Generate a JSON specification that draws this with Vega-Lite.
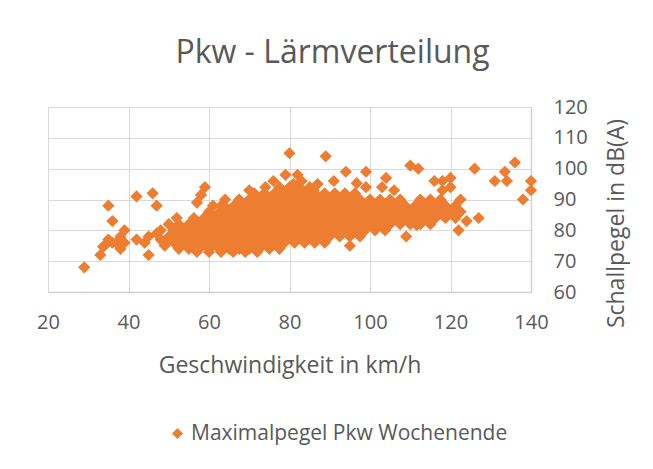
{
  "$schema": "https://vega.github.io/schema/vega-lite/v6.json",
  "width": 483,
  "height": 185,
  "autosize": {"type": "none"},
  "padding": {"left": 48, "top": 107, "right": 122, "bottom": 177},
  "background": "white",
  "title": {"text": "Pkw - Lärmverteilung", "anchor": "middle", "frame": "group", "dx": 43, "offset": 2, "baseline": "alphabetic", "fontSize": 32, "font": "Open Sans", "fontWeight": "normal", "color": "#595959"},
  "data": {"values": [
    {"v":57,"p":73},{"v":60,"p":73},{"v":63,"p":73},{"v":66,"p":73},{"v":69,"p":73},{"v":72,"p":73},
    {"v":52.5,"p":74},{"v":55,"p":74},{"v":57.5,"p":74},{"v":60,"p":74},{"v":62.5,"p":74},{"v":65,"p":74},{"v":67.5,"p":74},{"v":70,"p":74},{"v":72.5,"p":74},{"v":75,"p":74},{"v":77.5,"p":74},
    {"v":48.75,"p":76},{"v":51.25,"p":76},{"v":53.75,"p":76},{"v":56.25,"p":76},{"v":58.75,"p":76},{"v":61.25,"p":76},{"v":63.75,"p":76},{"v":66.25,"p":76},{"v":68.75,"p":76},{"v":71.25,"p":76},{"v":73.75,"p":76},{"v":76.25,"p":76},{"v":78.75,"p":76},{"v":81.25,"p":76},{"v":83.75,"p":76},{"v":86.25,"p":76},{"v":88.75,"p":76},
    {"v":50,"p":78},{"v":52.5,"p":78},{"v":55,"p":78},{"v":57.5,"p":78},{"v":60,"p":78},{"v":62.5,"p":78},{"v":65,"p":78},{"v":67.5,"p":78},{"v":70,"p":78},{"v":72.5,"p":78},{"v":75,"p":78},{"v":77.5,"p":78},{"v":80,"p":78},{"v":82.5,"p":78},{"v":85,"p":78},{"v":87.5,"p":78},{"v":90,"p":78},{"v":92.5,"p":78},{"v":95,"p":78},{"v":97.5,"p":78},
    {"v":51.25,"p":80},{"v":53.75,"p":80},{"v":56.25,"p":80},{"v":58.75,"p":80},{"v":61.25,"p":80},{"v":63.75,"p":80},{"v":66.25,"p":80},{"v":68.75,"p":80},{"v":71.25,"p":80},{"v":73.75,"p":80},{"v":76.25,"p":80},{"v":78.75,"p":80},{"v":81.25,"p":80},{"v":83.75,"p":80},{"v":86.25,"p":80},{"v":88.75,"p":80},{"v":91.25,"p":80},{"v":93.75,"p":80},{"v":96.25,"p":80},{"v":98.75,"p":80},{"v":101.25,"p":80},{"v":103.75,"p":80},
    {"v":52.5,"p":82},{"v":55,"p":82},{"v":57.5,"p":82},{"v":60,"p":82},{"v":62.5,"p":82},{"v":65,"p":82},{"v":67.5,"p":82},{"v":70,"p":82},{"v":72.5,"p":82},{"v":75,"p":82},{"v":77.5,"p":82},{"v":80,"p":82},{"v":82.5,"p":82},{"v":85,"p":82},{"v":87.5,"p":82},{"v":90,"p":82},{"v":92.5,"p":82},{"v":95,"p":82},{"v":97.5,"p":82},{"v":100,"p":82},{"v":102.5,"p":82},{"v":105,"p":82},{"v":107.5,"p":82},{"v":110,"p":82},{"v":112.5,"p":82},{"v":115,"p":82},
    {"v":56.25,"p":84},{"v":58.75,"p":84},{"v":61.25,"p":84},{"v":63.75,"p":84},{"v":66.25,"p":84},{"v":68.75,"p":84},{"v":71.25,"p":84},{"v":73.75,"p":84},{"v":76.25,"p":84},{"v":78.75,"p":84},{"v":81.25,"p":84},{"v":83.75,"p":84},{"v":86.25,"p":84},{"v":88.75,"p":84},{"v":91.25,"p":84},{"v":93.75,"p":84},{"v":96.25,"p":84},{"v":98.75,"p":84},{"v":101.25,"p":84},{"v":103.75,"p":84},{"v":106.25,"p":84},{"v":108.75,"p":84},{"v":111.25,"p":84},{"v":113.75,"p":84},{"v":116.25,"p":84},{"v":118.75,"p":84},{"v":121.25,"p":84},
    {"v":60,"p":86},{"v":62.5,"p":86},{"v":65,"p":86},{"v":67.5,"p":86},{"v":70,"p":86},{"v":72.5,"p":86},{"v":75,"p":86},{"v":77.5,"p":86},{"v":80,"p":86},{"v":82.5,"p":86},{"v":85,"p":86},{"v":87.5,"p":86},{"v":90,"p":86},{"v":92.5,"p":86},{"v":95,"p":86},{"v":97.5,"p":86},{"v":100,"p":86},{"v":102.5,"p":86},{"v":105,"p":86},{"v":107.5,"p":86},{"v":110,"p":86},{"v":112.5,"p":86},{"v":115,"p":86},{"v":117.5,"p":86},{"v":120,"p":86},{"v":122.5,"p":86},
    {"v":63.75,"p":88},{"v":66.25,"p":88},{"v":68.75,"p":88},{"v":71.25,"p":88},{"v":73.75,"p":88},{"v":76.25,"p":88},{"v":78.75,"p":88},{"v":81.25,"p":88},{"v":83.75,"p":88},{"v":86.25,"p":88},{"v":88.75,"p":88},{"v":91.25,"p":88},{"v":93.75,"p":88},{"v":96.25,"p":88},{"v":98.75,"p":88},{"v":101.25,"p":88},{"v":103.75,"p":88},{"v":106.25,"p":88},{"v":108.75,"p":88},{"v":111.25,"p":88},{"v":113.75,"p":88},{"v":116.25,"p":88},{"v":118.75,"p":88},{"v":121.25,"p":88},
    {"v":67.5,"p":90},{"v":70,"p":90},{"v":72.5,"p":90},{"v":75,"p":90},{"v":77.5,"p":90},{"v":80,"p":90},{"v":82.5,"p":90},{"v":85,"p":90},{"v":87.5,"p":90},{"v":90,"p":90},{"v":92.5,"p":90},{"v":95,"p":90},{"v":97.5,"p":90},{"v":100,"p":90},{"v":102.5,"p":90},{"v":105,"p":90},{"v":107.5,"p":90},{"v":112.5,"p":90},{"v":115,"p":90},{"v":117.5,"p":90},{"v":122.5,"p":90},
    {"v":71.25,"p":92},{"v":73.75,"p":92},{"v":76.25,"p":92},{"v":78.75,"p":92},{"v":81.25,"p":92},{"v":83.75,"p":92},{"v":86.25,"p":92},{"v":88.75,"p":92},{"v":91.25,"p":92},{"v":93.75,"p":92},{"v":96.25,"p":92},
    {"v":77.5,"p":94},{"v":80,"p":94},{"v":82.5,"p":94},{"v":85,"p":94},
    {"v":29,"p":68},{"v":33,"p":72},{"v":34,"p":75},{"v":35,"p":77},{"v":33.7,"p":74.7},{"v":36,"p":76},{"v":37,"p":76},{"v":38,"p":74},{"v":38,"p":78},{"v":39,"p":76},{"v":39,"p":80},{"v":35,"p":88},{"v":36,"p":83},{"v":42,"p":91},{"v":46,"p":92},{"v":47,"p":88},{"v":42,"p":77},{"v":44,"p":76},{"v":45,"p":72},{"v":45,"p":78},{"v":47,"p":79},{"v":48,"p":77},{"v":48,"p":80},{"v":50,"p":82},{"v":49,"p":75},{"v":52,"p":84},{"v":57,"p":89},{"v":58,"p":91.5},{"v":59,"p":94},{"v":61,"p":88},{"v":63,"p":88},{"v":64,"p":90},{"v":70,"p":93},{"v":74,"p":94},{"v":76,"p":96},{"v":79,"p":98},{"v":81,"p":95},{"v":80,"p":105},{"v":83,"p":96},{"v":82,"p":98},{"v":86,"p":93},{"v":87,"p":95},{"v":89,"p":104},{"v":91,"p":96},{"v":94,"p":99},{"v":96.7,"p":95.3},{"v":99,"p":94},{"v":99,"p":99},{"v":103,"p":94},{"v":104,"p":97},{"v":106,"p":93},{"v":110,"p":101},{"v":112,"p":100},{"v":116,"p":96},{"v":118,"p":96},{"v":120,"p":97},{"v":118,"p":93},{"v":120,"p":94},{"v":126,"p":100},{"v":131,"p":96},{"v":134,"p":96},{"v":133.5,"p":99},{"v":136,"p":102},{"v":140,"p":96},{"v":140,"p":93},{"v":138,"p":90},{"v":122,"p":80},{"v":124,"p":83},{"v":127,"p":84},{"v":115,"p":83},{"v":109,"p":78},{"v":95,"p":75},{"v":111.6,"p":81.7}
  ]},
  "mark": {"type": "point", "shape": "diamond", "filled": true, "size": 150, "opacity": 1},
  "encoding": {
    "x": {
      "field": "v", "type": "quantitative",
      "scale": {"domain": [20, 140], "nice": false, "zero": false},
      "axis": {
        "values": [20, 40, 60, 80, 100, 120, 140],
        "title": "Geschwindigkeit in km/h",
        "grid": true, "gridColor": "#D9D9D9", "gridWidth": 1,
        "domain": true, "domainColor": "#D0D0D0", "domainWidth": 1.5,
        "ticks": false,
        "labelFont": "Open Sans", "labelFontSize": 20, "labelColor": "#595959", "labelPadding": 20,
        "labelFlush": false, "labelOverlap": false,
        "titleFont": "Open Sans", "titleFontSize": 23, "titleFontWeight": "normal", "titleColor": "#595959",
        "titleBaseline": "alphabetic", "titleY": 80
      }
    },
    "y": {
      "field": "p", "type": "quantitative",
      "scale": {"domain": [60, 120], "nice": false, "zero": false},
      "axis": {
        "orient": "right",
        "values": [60, 70, 80, 90, 100, 110, 120],
        "title": "Schallpegel in dB(A)",
        "grid": true, "gridColor": "#D9D9D9", "gridWidth": 1,
        "domain": true, "domainColor": "#D0D0D0", "domainWidth": 1.5,
        "ticks": false,
        "labelFont": "Open Sans", "labelFontSize": 20, "labelColor": "#595959", "labelPadding": 22,
        "labelAlign": "left", "labelFlush": false, "labelOverlap": false,
        "titleFont": "Open Sans", "titleFontSize": 23, "titleFontWeight": "normal", "titleColor": "#595959",
        "titleAngle": 270, "titleBaseline": "alphabetic", "titleAlign": "center", "titleX": 92, "titleY": 116
      }
    },
    "color": {
      "datum": "Maximalpegel Pkw Wochenende", "type": "nominal",
      "scale": {"range": ["#ED7D31"]},
      "legend": {
        "orient": "none", "legendX": 119, "legendY": 316, "title": null, "padding": 0,
        "symbolType": "diamond", "symbolSize": 120, "labelOffset": 3, "labelLimit": 0,
        "labelFont": "Open Sans", "labelFontSize": 21, "labelColor": "#595959"
      }
    }
  },
  "config": {"view": {"stroke": null}}
}
